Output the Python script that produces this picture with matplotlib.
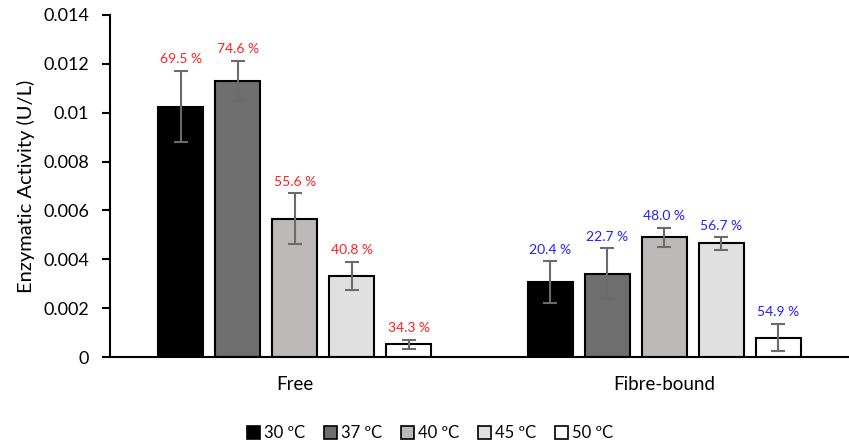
import matplotlib
matplotlib.use("Agg")
import matplotlib.pyplot as plt
import numpy as np
from matplotlib.patches import Patch

plt.rcParams['font.family'] = ['Lato', 'DejaVu Sans']

groups = ["Free", "Fibre-bound"]
temps = ["30 ºC", "37 ºC", "40 ºC", "45 ºC", "50 ºC"]
free_vals = [0.01025, 0.0113, 0.00566, 0.00332, 0.00052]
free_err = [0.00146, 0.00083, 0.00104, 0.00058, 0.00018]
fibre_vals = [0.00306, 0.00341, 0.0049, 0.00465, 0.00079]
fibre_err = [0.00086, 0.00104, 0.0004, 0.00026, 0.00056]
free_pct = ["69.5 %", "74.6 %", "55.6 %", "40.8 %", "34.3 %"]
fibre_pct = ["20.4 %", "22.7 %", "48.0 %", "56.7 %", "54.9 %"]

colors = ["#000000", "#6e6e6e", "#bdb9b8", "#e0e0e0", "#ffffff"]

fig = plt.figure(figsize=(8.49, 4.44), dpi=100)
ax = fig.add_axes([110/849, 1-357/444, 1-110/849, (357-15)/444])

step = 0.1545
width = 0.122
gx = np.arange(len(groups))
for i in range(len(temps)):
    xs = gx + (i - 2) * step
    vals = [free_vals[i], fibre_vals[i]]
    errs = [free_err[i], fibre_err[i]]
    ax.bar(xs, vals, width, color=colors[i], edgecolor="black", linewidth=1.5, zorder=2)
    ax.errorbar(xs, vals, yerr=errs, fmt="none", ecolor="#6b6b6b", elinewidth=1.5,
                capsize=5, capthick=1.5, zorder=3)
    pcts = [free_pct[i], fibre_pct[i]]
    tcol = ["#ff2020", "#2020ff"]
    for j in range(2):
        ax.annotate(pcts[j], (xs[j], vals[j] + errs[j]), xytext=(0, 4),
                    textcoords="offset points", ha="center", va="bottom",
                    color=tcol[j], fontsize=10)

ax.set_xlim(-0.5, 1.5)
ax.set_ylim(0, 0.014)
ax.set_yticks(np.arange(0, 0.0141, 0.002))
ax.set_yticklabels(["0", "0.002", "0.004", "0.006", "0.008", "0.01", "0.012", "0.014"])
ax.set_xticks(gx)
ax.set_xticklabels(groups, fontsize=13.5)
ax.tick_params(axis="x", length=0, pad=14)
ax.tick_params(axis="y", labelsize=13, length=6, width=1.5, direction="out", pad=9)
ax.spines["top"].set_visible(False)
ax.spines["right"].set_visible(False)
ax.spines["left"].set_linewidth(1.5)
ax.spines["bottom"].set_linewidth(1.5)
ax.set_ylabel("Enzymatic Activity (U/L)", fontsize=14.5, labelpad=6)

handles = [Patch(facecolor=c, edgecolor="black", linewidth=1.2) for c in colors]
fig.legend(handles, temps, loc="center", bbox_to_anchor=(430/849, 1-433/444), ncol=5,
           frameon=False, fontsize=12, handlelength=0.8, handleheight=0.8,
           handletextpad=0.25, columnspacing=1.1)

fig.savefig("out.png", dpi=100)
